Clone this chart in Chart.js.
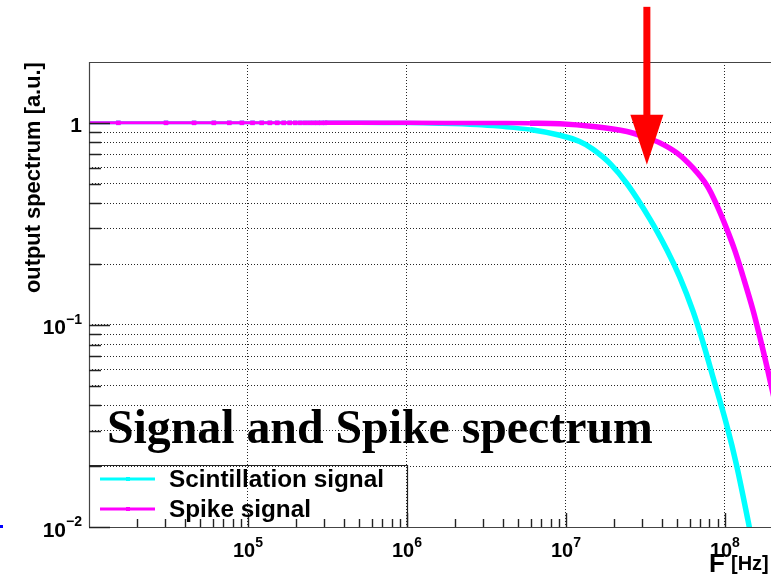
<!DOCTYPE html>
<html>
<head>
<meta charset="utf-8">
<script src="https://cdn.jsdelivr.net/npm/chart.js@4.4.0/dist/chart.umd.min.js"></script>
<style>
  html, body { margin: 0; padding: 0; background: #fff; overflow: hidden; }
  canvas { display: block; }
</style>
</head>
<body>
<canvas id="spectrum" width="771" height="574"></canvas>
<script>
// axis ranges
const xRange = [1e4, 1.95e8];   // F [Hz]
const yRange = [0.01, 2];       // output spectrum [a.u.]

// ticks
const xMajorTicks = [1e5, 1e6, 1e7, 1e8];
const xMinorTicks = [2e4, 3e4, 4e4, 5e4, 6e4, 7e4, 8e4, 9e4,
                     2e5, 3e5, 4e5, 5e5, 6e5, 7e5, 8e5, 9e5,
                     2e6, 3e6, 4e6, 5e6, 6e6, 7e6, 8e6, 9e6,
                     2e7, 3e7, 4e7, 5e7, 6e7, 7e7, 8e7, 9e7];
const xTickExp = ['5', '6', '7', '8'];
const yMajorTicks = [0.01, 0.1, 1];
const yMinorTicks = [0.02, 0.03, 0.04, 0.05, 0.06, 0.07, 0.08, 0.09,
                     0.2, 0.3, 0.4, 0.5, 0.6, 0.7, 0.8, 0.9];
const yTickBase = ['10', '10', '1'];
const yTickExp = ['\u22122', '\u22121', ''];

// first FFT bins (visible as markers, both signals at 1)
const lowFreq = [10000, 15300, 30500, 45800, 61000, 76300, 91600, 106800, 122000, 137300,
                 152600, 167800, 183100, 198400, 213600, 228900, 244100, 259400, 274700, 289900, 305200];
const lowLevel = [1, 1, 1, 1, 1, 1, 1, 1, 1, 1, 1, 1, 1, 1, 1, 1, 1, 1, 1, 1, 1];

// Scintillation signal
const scintFreq = [5e5, 1e6, 1.6e6, 2.75e6, 3.85e6, 5.94e6, 9.16e6, 1.22e7, 1.48e7, 1.89e7,
                   2.42e7, 3.37e7, 4.32e7, 5.21e7, 6.3e7, 7.28e7, 8.43e7, 1.026e8, 1.183e8, 1.4e8, 1.48e8];
const scintValue = [1, 0.997, 0.99, 0.976, 0.958, 0.926, 0.868, 0.808, 0.74, 0.63,
                    0.5, 0.335, 0.235, 0.172, 0.117, 0.082, 0.055, 0.032, 0.0203, 0.0107, 0.0085];

// Spike signal
const spikeFreq = [5e5, 1e6, 3e6, 5.94e6, 9.16e6, 1.48e7, 2.42e7, 3.23e7, 3.9e7, 4.99e7,
                   6.3e7, 7.71e7, 8.91e7, 1.03e8, 1.156e8, 1.297e8, 1.5e8, 1.66e8, 1.84e8, 1.945e8, 2.06e8];
const spikeValue = [1, 1, 0.998, 0.995, 0.989, 0.959, 0.906, 0.843, 0.796, 0.71,
                    0.598, 0.49, 0.39, 0.297, 0.233, 0.175, 0.119, 0.087, 0.062, 0.051, 0.042];

const seriesNames = ['Scintillation signal', 'Spike signal'];
const seriesColors = ['#00ffff', '#ff00ff'];

// red arrow annotation (frequency, top, head base, tip)
const arrowFreq = 3.23e7;
const arrowLevels = [3.75, 1.095, 0.62];

const FONT = '"Liberation Sans", Arial, sans-serif';
const SERIF = '"Liberation Serif", "Times New Roman", serif';

function toPoints(fx, fy) {
    return fx.map((f, i) => ({ x: f, y: fy[i] }));
}

// dense FFT bins make the line look thicker at higher frequency
function segWidth(c) {
    const f = c.p0.parsed.x;
    if (f < 2.9e5) return 3;
    return f < 5e6 ? 4.5 : 5.5;
}

function makeDataset(i, freq, value, order) {
    return {
        label: seriesNames[i],
        data: toPoints(lowFreq, lowLevel).concat(toPoints(freq, value)),
        borderColor: seriesColors[i],
        backgroundColor: seriesColors[i],
        borderWidth: 3,
        segment: { borderWidth: segWidth },
        pointStyle: 'rect',
        pointRadius: c => (c.raw && c.raw.x > 12000 && c.raw.x < 3.1e5) ? 3.2 : 0,
        pointBorderWidth: 0,
        pointHoverRadius: 0,
        tension: 0.35,
        clip: 0,
        order: order
    };
}

function fitSize(ctx, text, family, width) {
    ctx.font = 'bold 100px ' + family;
    return 100 * width / ctx.measureText(text).width;
}

function drawPower(ctx, base, exp, x, y, align, baseSize, expSize) {
    ctx.font = 'bold ' + baseSize + 'px ' + FONT;
    const wb = ctx.measureText(base).width;
    ctx.font = 'bold ' + expSize + 'px ' + FONT;
    const we = exp ? ctx.measureText(exp).width : 0;
    let x0 = align === 'center' ? x - (wb + we) / 2 : x - wb - we;
    ctx.textAlign = 'left';
    ctx.textBaseline = 'alphabetic';
    ctx.font = 'bold ' + baseSize + 'px ' + FONT;
    ctx.fillText(base, x0, y);
    if (exp) {
        ctx.font = 'bold ' + expSize + 'px ' + FONT;
        ctx.fillText(exp, x0 + wb, y - 10.5);
    }
}

const rootDecor = {
    id: 'rootDecor',
    afterDraw(chart) {
        const { ctx, chartArea: a, scales: { x, y } } = chart;
        ctx.save();
        ctx.fillStyle = '#000';

        // frame (left, top, bottom)
        ctx.strokeStyle = '#444';
        ctx.lineWidth = 1.2;
        ctx.beginPath();
        ctx.moveTo(a.left + 0.5, a.top);
        ctx.lineTo(a.left + 0.5, a.bottom);
        ctx.moveTo(a.left, a.top + 0.5);
        ctx.lineTo(a.right, a.top + 0.5);
        ctx.moveTo(a.left, a.bottom + 0.5);
        ctx.lineTo(a.right, a.bottom + 0.5);
        ctx.stroke();

        // inward ticks
        ctx.strokeStyle = '#222';
        ctx.lineWidth = 1.4;
        ctx.beginPath();
        yMajorTicks.forEach(v => {
            const py = Math.round(y.getPixelForValue(v)) + 0.5;
            ctx.moveTo(a.left, py); ctx.lineTo(a.left + 21, py);
        });
        yMinorTicks.forEach(v => {
            const py = Math.round(y.getPixelForValue(v)) + 0.5;
            ctx.moveTo(a.left, py); ctx.lineTo(a.left + 12, py);
        });
        xMajorTicks.forEach(v => {
            const px = Math.round(x.getPixelForValue(v)) + 0.5;
            ctx.moveTo(px, a.bottom); ctx.lineTo(px, a.bottom - 14);
        });
        xMinorTicks.forEach(v => {
            const px = Math.round(x.getPixelForValue(v)) + 0.5;
            ctx.moveTo(px, a.bottom); ctx.lineTo(px, a.bottom - 8);
        });
        ctx.stroke();

        // tick labels
        xMajorTicks.forEach((v, i) => {
            drawPower(ctx, '10', xTickExp[i], x.getPixelForValue(v), a.bottom + 30, 'center', 20, 14);
        });
        yMajorTicks.forEach((v, i) => {
            drawPower(ctx, yTickBase[i], yTickExp[i], 82, y.getPixelForValue(v) + 9.5, 'right', 21, 14);
        });

        // y title
        const yt = 'output spectrum [a.u.]';
        const ys = fitSize(ctx, yt, FONT, 231);
        ctx.save();
        ctx.translate(40, 293);
        ctx.rotate(-Math.PI / 2);
        ctx.font = 'bold ' + ys + 'px ' + FONT;
        ctx.textAlign = 'left';
        ctx.fillText(yt, 0, 0);
        ctx.restore();

        // x title F_[Hz]
        ctx.textAlign = 'left';
        ctx.font = 'bold 26px ' + FONT;
        ctx.fillText('F', 709, 572);
        ctx.font = 'bold 20px ' + FONT;
        ctx.fillText('[Hz]', 731, 570);

        // title inside the pad
        const tt = 'Signal and Spike spectrum';
        const ts = fitSize(ctx, tt, SERIF, 546);
        ctx.font = 'bold ' + ts + 'px ' + SERIF;
        ctx.fillText(tt, 107, 443);

        // legend box
        const lg = { left: a.left, top: 465, right: Math.round(x.getPixelForValue(1e6)) + 0.5, bottom: a.bottom };
        ctx.strokeStyle = '#222';
        ctx.lineWidth = 1.2;
        ctx.beginPath();
        ctx.moveTo(lg.left, lg.top + 0.5);
        ctx.lineTo(lg.right, lg.top + 0.5);
        ctx.lineTo(lg.right, lg.bottom);
        ctx.stroke();
        const ls = fitSize(ctx, seriesNames[0], FONT, 215);
        [479, 509].forEach((ly, i) => {
            ctx.strokeStyle = seriesColors[i];
            ctx.lineWidth = 3;
            ctx.beginPath();
            ctx.moveTo(100, ly); ctx.lineTo(155, ly);
            ctx.stroke();
            ctx.fillStyle = seriesColors[i];
            ctx.fillRect(126, ly - 2, 4, 4);
            ctx.fillStyle = '#000';
            ctx.font = 'bold ' + ls + 'px ' + FONT;
            ctx.fillText(seriesNames[i], 169, ly + 8);
        });

        // red arrow
        const ax = x.getPixelForValue(arrowFreq);
        const [yTop, yBase, yTip] = arrowLevels.map(v => y.getPixelForValue(v));
        ctx.fillStyle = '#ff0000';
        ctx.fillRect(ax - 3.5, yTop, 7, yBase - yTop + 1);
        ctx.beginPath();
        ctx.moveTo(ax - 16.5, yBase);
        ctx.lineTo(ax + 16.5, yBase);
        ctx.lineTo(ax, yTip);
        ctx.closePath();
        ctx.fill();

        // small blue mark at the left edge
        ctx.fillStyle = '#0000ff';
        ctx.fillRect(0, 525, 3, 3);

        ctx.restore();
    }
};

new Chart(document.getElementById('spectrum'), {
    type: 'line',
    data: {
        datasets: [
            makeDataset(0, scintFreq, scintValue, 1),
            makeDataset(1, spikeFreq, spikeValue, 0)
        ]
    },
    options: {
        responsive: false,
        animation: false,
        devicePixelRatio: 1,
        events: [],
        layout: { padding: { left: 89, top: 62, right: 0, bottom: 47 } },
        plugins: {
            legend: { display: false },
            tooltip: { enabled: false },
            title: { display: false }
        },
        scales: {
            x: {
                type: 'logarithmic',
                min: xRange[0],
                max: xRange[1],
                afterBuildTicks: s => { s.ticks = xMajorTicks.map(v => ({ value: v })); },
                ticks: { display: false },
                grid: { drawTicks: false, color: 'rgba(0,0,0,0.85)', lineWidth: 1 },
                border: { display: false, dash: [1, 2] }
            },
            y: {
                type: 'logarithmic',
                min: yRange[0],
                max: yRange[1],
                afterBuildTicks: s => { s.ticks = yMinorTicks.concat(yMajorTicks.slice(1)).map(v => ({ value: v })); },
                ticks: { display: false },
                grid: { drawTicks: false, color: 'rgba(0,0,0,0.85)', lineWidth: 1 },
                border: { display: false, dash: [1, 2] }
            }
        }
    },
    plugins: [rootDecor]
});
</script>
</body>
</html>
